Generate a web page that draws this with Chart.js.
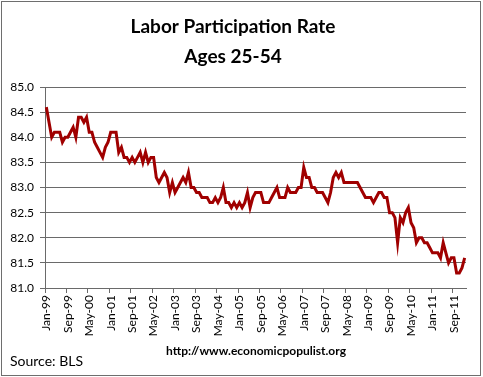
<!DOCTYPE html>
<html>
<head>
<meta charset="utf-8">
<script src="https://cdn.jsdelivr.net/npm/chart.js@4"></script>
<style>
  html, body { margin: 0; padding: 0; background: #fff; }
  canvas { display: block; }
</style>
</head>
<body>
<canvas id="chart" width="483" height="377"></canvas>
<script>
// Labor participation rate, ages 25-54, monthly (BLS)
const rate1999 = [84.6, 84.3, 84.0, 84.1, 84.1, 84.1, 83.9, 84.0, 84.0, 84.1, 84.2, 84.0];
const rate2000 = [84.4, 84.4, 84.3, 84.4, 84.1, 84.1, 83.9, 83.8, 83.7, 83.6, 83.8, 83.9];
const rate2001 = [84.1, 84.1, 84.1, 83.7, 83.8, 83.6, 83.6, 83.5, 83.6, 83.5, 83.6, 83.7];
const rate2002 = [83.5, 83.7, 83.5, 83.6, 83.6, 83.2, 83.1, 83.2, 83.3, 83.2, 82.9, 83.1];
const rate2003 = [82.9, 83.0, 83.1, 83.2, 83.1, 83.3, 83.0, 83.0, 82.9, 82.9, 82.8, 82.8];
const rate2004 = [82.8, 82.7, 82.7, 82.8, 82.7, 82.8, 83.0, 82.7, 82.7, 82.6, 82.7, 82.6];
const rate2005 = [82.7, 82.6, 82.7, 82.9, 82.6, 82.8, 82.9, 82.9, 82.9, 82.7, 82.7, 82.7];
const rate2006 = [82.8, 82.9, 83.0, 82.8, 82.8, 82.8, 83.0, 82.9, 82.9, 82.9, 83.0, 83.0];
const rate2007 = [83.4, 83.2, 83.2, 83.0, 83.0, 82.9, 82.9, 82.9, 82.8, 82.7, 82.9, 83.2];
const rate2008 = [83.3, 83.2, 83.3, 83.1, 83.1, 83.1, 83.1, 83.1, 83.1, 83.0, 82.9, 82.8];
const rate2009 = [82.8, 82.8, 82.7, 82.8, 82.9, 82.9, 82.8, 82.8, 82.5, 82.5, 82.4, 81.9];
const rate2010 = [82.4, 82.3, 82.5, 82.6, 82.3, 82.2, 81.9, 82.0, 82.0, 81.9, 81.9, 81.8];
const rate2011 = [81.7, 81.7, 81.7, 81.6, 81.9, 81.7, 81.5, 81.6, 81.6, 81.3, 81.3, 81.4];
const rate2012 = [81.6];

const monthNames = ['Jan','Feb','Mar','Apr','May','Jun','Jul','Aug','Sep','Oct','Nov','Dec'];
const startYear = 1999;
const yTicks = [81.0, 81.5, 82.0, 82.5, 83.0, 83.5, 84.0, 84.5, 85.0];
const labelEvery = 8;

const rates = [].concat(rate1999, rate2000, rate2001, rate2002, rate2003, rate2004,
  rate2005, rate2006, rate2007, rate2008, rate2009, rate2010, rate2011, rate2012);

const months = rates.map((v, i) => {
  const yr = startYear + Math.floor(i / 12);
  return monthNames[i % 12] + '-' + String(yr).slice(2);
});

const gridColor = '#6a6a6a';

// white background, outer frame and footer texts
const frame = {
  id: 'frame',
  beforeDraw(chart) {
    const c = chart.ctx;
    c.save();
    c.fillStyle = '#fff';
    c.fillRect(0, 0, chart.width, chart.height);
    c.restore();
  },
  afterDraw(chart) {
    const c = chart.ctx;
    c.save();
    c.strokeStyle = '#6e6e6e';
    c.lineWidth = 1;
    c.strokeRect(1.5, 1.5, 479, 374);
    c.fillStyle = '#000';
    c.textBaseline = 'alphabetic';
    c.font = '14px Lato';
    c.textAlign = 'left';
    c.fillText('Source: BLS', 10, 366);
    c.font = 'bold 12px Lato';
    c.textAlign = 'center';
    c.fillText('http://www.economicpopulist.org', 256, 355);
    c.restore();
  }
};

new Chart(document.getElementById('chart'), {
  type: 'line',
  data: {
    labels: months,
    datasets: [{
      label: 'Participation rate',
      data: rates,
      borderColor: '#a00000',
      borderWidth: 3,
      pointRadius: 0,
      tension: 0,
      fill: false
    }]
  },
  options: {
    responsive: false,
    animation: false,
    devicePixelRatio: 1,
    layout: { padding: { left: 0, right: 17, top: 0, bottom: 39 } },
    plugins: {
      legend: { display: false },
      tooltip: { enabled: false },
      title: {
        display: true,
        text: ['Labor Participation Rate', 'Ages 25-54'],
        color: '#000',
        font: { family: 'Lato', size: 19, weight: 'bold', lineHeight: 1.58 },
        padding: { top: 12, bottom: 15 }
      }
    },
    scales: {
      x: {
        type: 'category',
        offset: true,
        afterFit(scale) { scale.height = 50; },
        border: { color: gridColor },
        grid: {
          offset: true,
          drawOnChartArea: false,
          drawTicks: true,
          tickLength: 5,
          color: ctx => (ctx.index % labelEvery === 0 ? gridColor : 'rgba(0,0,0,0)')
        },
        ticks: {
          autoSkip: false,
          maxRotation: 90,
          minRotation: 90,
          padding: 2,
          color: '#000',
          font: { family: 'Lato', size: 12 },
          callback: (v, i) => (i % labelEvery === 0 ? months[i] : '')
        }
      },
      y: {
        min: yTicks[0],
        max: yTicks[yTicks.length - 1],
        afterFit(scale) { scale.width = 45; },
        afterBuildTicks(scale) { scale.ticks = yTicks.map(v => ({ value: v })); },
        border: { color: gridColor },
        grid: { color: gridColor, tickLength: 5 },
        ticks: {
          padding: 6,
          color: '#000',
          font: { family: 'Lato', size: 12 },
          callback: v => Number(v).toFixed(1)
        }
      }
    }
  },
  plugins: [frame]
});
</script>
</body>
</html>
